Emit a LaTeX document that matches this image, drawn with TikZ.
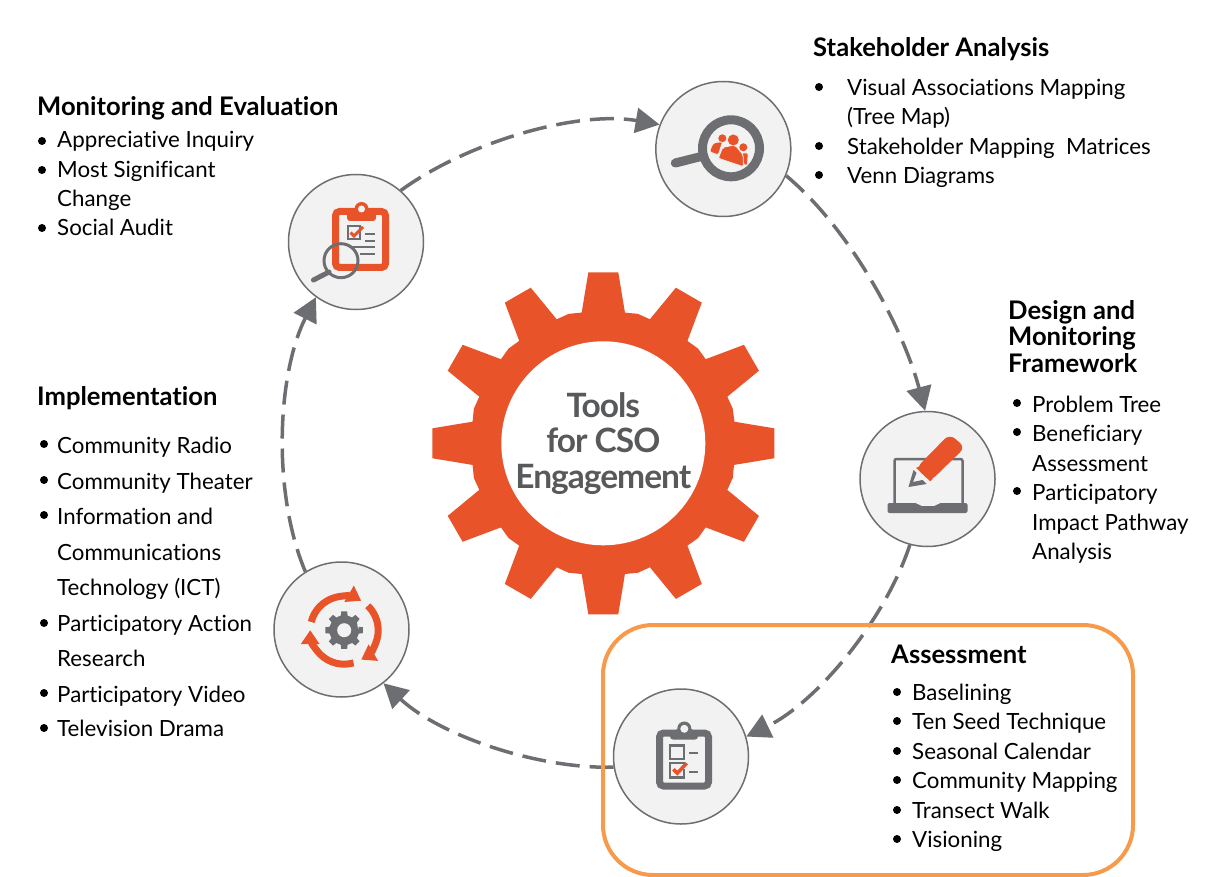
\documentclass[tikz,border=0pt]{standalone}
\usepackage{fontspec}
\setmainfont{Lato}[Ligatures=NoCommon]
\usepackage{xcolor}
\usetikzlibrary{
  arrows.meta,
  positioning
}
\definecolor{rust}{HTML}{E9532A}
\definecolor{slate}{HTML}{6D6E71}
\definecolor{pale}{HTML}{F2F2F2}
\definecolor{hubtext}{HTML}{58595B}
\definecolor{amber}{HTML}{F79A4B}

\begin{document}
\begin{tikzpicture}[
  x=1pt, y=-1pt,
  stage/.style={circle, draw=slate, line width=1.5pt, fill=pale, minimum size=135pt, inner sep=0pt},
  flow/.style={draw=slate, line width=3.5pt, dash pattern=on 24pt off 10pt, looseness=0.8, -{Triangle[length=24pt, width=25pt]}},
  head/.style={anchor=base west, font=\fontsize{25.6}{26.5}\selectfont\bfseries, align=left, inner sep=0pt},
  item/.style={anchor=base west, font=\fontsize{22.3}{28}\selectfont, inner sep=0pt},
  dot/.style={circle, fill=black, minimum size=8pt, inner sep=0pt},
  person/.style={fill=rust, draw=pale, line width=0.8pt, rounded corners=2pt},
]
\useasboundingbox (0,0) rectangle (1207,877);

% --- Central gear ---
\fill[rust, shift={(603.3,443.3)}] (0:134) \foreach \a in {0,30,...,330}{
  -- (\a-9.4:132.5) -- (\a-5:171.7) -- (\a+5:171.7) -- (\a+9.4:132.5) -- (\a+15:134)} -- cycle;
\node[circle, fill=white, minimum size=204pt, inner sep=0pt, text=hubtext, align=center,
  font=\fontsize{33.5}{35.5}\selectfont\bfseries\addfontfeature{LetterSpace=-3}] (hub) at (603.3,443.3) {Tools\\for CSO\\Engagement};

% --- Stages ---
\node[stage] (stake) at (723.3,149) {};
\node[stage] (design) at (927.5,479) {};
\node[stage] (assess) at (681,756.5) {};
\node[stage] (impl) at (341.5,629.5) {};
\node[stage] (mon) at (356,242) {};

% Connectors
\draw[flow] (mon.49.8) to[out=36, in=170.2] (stake.159);
\draw[flow] (stake.-23.6) to[out=-40, in=105] (design.92);
\draw[flow] (design.255.1) to[out=-108.2, in=25.9] (assess.17.5);
\draw[flow] (assess.189.5) to[out=-178.6, in=-42.9] (impl.-52.2);
\draw[flow] (impl.122.3) to[out=112.9, in=-116.8] (mon.-126);

% Highlight
\node[draw=amber, line width=4pt, rounded corners=50pt, minimum width=530pt, minimum height=250pt, inner sep=0pt] (focus) at (868,750) {};

% --- Stakeholder icon ---
\begin{scope}[shift={(stake)}]
  \draw[slate, line width=9pt] (7.7,-0.7) circle (28.5);
  \draw[slate, line width=9pt, line cap=round] (-23,7.7) -- (-48,14);
  \fill[rust] (-1,-10.7) circle (4) (20,-1.7) circle (4);
  \path[person] (-14,2.7) -- (-10,-6.3) -- (-0.7,-7.3) -- (-5,6) -- cycle;
  \path[person] (17.3,4.3) -- (25,3.7) -- (24,17) -- (20.7,16.3) -- cycle;
  \path[person] (-5,9.3) -- (-0.7,-1.7) -- (11.7,-4) -- (20,6) -- (20,17.7) -- cycle;
  \fill[rust] (10,-9) circle (5.5);
\end{scope}

% --- Laptop icon ---
\begin{scope}[shift={(design)}]
  \draw[slate, line width=2.5pt, rounded corners=2pt] (-33,25) -- (-33,-20) -- (35,-20) -- (35,25);
  \fill[slate, rounded corners=2pt] (-40,24) -- (-10,24) -- (-8,27) -- (9,27) -- (11,24) -- (40,24) -- (40,34) -- (-40,34) -- cycle;
  \fill[pale] (-17,-15) -- (8,-15) -- (8,10) -- (-17,10) -- cycle;
  \fill[rust, rounded corners=7pt] (-11.3,-11) -- (22,-45) -- (37.7,-31.7) -- (2.7,2.3) -- cycle;
  \fill[rust] (-11.3,-11) -- (5,-20) -- (5,0) -- (2.7,2.3) -- cycle;
  \fill[slate] (-19,8) -- (-14,-9) -- (-11,-6) -- (-14.5,3) -- (-5,1) -- (-1,5) -- cycle;
\end{scope}

% --- Assessment clipboard icon ---
\begin{scope}[shift={(assess)}]
  \draw[slate, line width=7pt, rounded corners=4pt] (-21.5,-23.5) rectangle (27.5,29.5);
  \fill[slate, rounded corners=3pt] (-11,-17) -- (-11,-25) -- (-3,-27) -- (3.3,-36) -- (10,-27) -- (17,-25) -- (17,-17) -- cycle;
  \fill[slate] (3.3,-28) circle (7);
  \fill[pale] (3.3,-27.7) circle (4);
  \draw[slate, line width=2.5pt] (-11,-11) rectangle (3,2.3);
  \draw[slate, line width=2.5pt] (-11,6.7) rectangle (3,21);
  \draw[slate, line width=2pt] (8,-3.3) -- (17,-3.3) (8,15) -- (17,15);
  \fill[pale] (-3,8) rectangle (7,12);
  \draw[rust, line width=3.5pt] (-7.7,12.7) -- (-3.7,16.7) -- (5.7,6.7);
\end{scope}

% --- Cycle icon ---
\begin{scope}[shift={(impl)}]
  \foreach \r in {0,120,240}{
    \draw[rust, line width=7pt, -{Triangle[length=14pt, width=18pt]}, rotate around={\r:(2.7,0.7)}]
      (2.7,0.7) ++(194:34) arc[start angle=194, end angle=300, radius=34];
  }
  \fill[slate, shift={(2.7,0.7)}] (0:14) \foreach \a in {0,45,...,315}{
    -- (\a-13:15) -- (\a-9:19) -- (\a+9:19) -- (\a+13:15)} -- cycle;
  \fill[pale] (2.7,0.7) circle (7);
\end{scope}

% --- Monitoring icon ---
\begin{scope}[shift={(mon)}]
  \draw[rust, line width=7pt, rounded corners=4pt] (-20.5,-30.5) rectangle (29.5,25.5);
  \fill[rust, rounded corners=3pt] (-9,-21) -- (-9,-30) -- (-2,-32) -- (5.5,-41) -- (13,-32) -- (20,-30) -- (20,-21) -- cycle;
  \fill[rust] (5.5,-33) circle (7);
  \fill[pale] (5.5,-33) circle (3.5);
  \draw[slate, line width=2pt] (-8.5,-15.5) rectangle (4,-2.5);
  \draw[rust, line width=3pt] (-5.5,-9.5) -- (-2,-6) -- (7,-15);
  \draw[slate, line width=2pt] (9,-8) -- (19,-8) (9,-1) -- (19,-1) (-7,5.5) -- (19,5.5) (4,12.5) -- (19,12.5);
  \draw[slate, line width=3pt] (-15,18.7) circle (17);
  \draw[slate, line width=5pt, line cap=round] (-27,30) -- (-42.5,38);
\end{scope}

% --- Monitoring and Evaluation ---
\node[head] (monh) at (37,116) {Monitoring and Evaluation};
\foreach \i/\y/\t in {1/148/Appreciative Inquiry, 2/178/Most Significant, 3/207/Change, 4/236/Social Audit}{
  \node[item] (mon\i) at (57,\y) {\t};
}
\foreach \i/\y in {1/141, 2/170, 3/228}{
  \node[dot] (mond\i) at (42,\y) {};
}

% --- Stakeholder Analysis ---
\node[head] (stakeh) at (813,57) {Stakeholder Analysis};
\foreach \i/\y/\t in {1/96/Visual Associations Mapping, 2/125/(Tree Map), 3/155/Stakeholder Mapping~ Matrices, 4/184/Venn Diagrams}{
  \node[item] (stake\i) at (847,\y) {\t};
}
\foreach \i/\y in {1/87, 2/146, 3/175}{
  \node[dot] (staked\i) at (819,\y) {};
}

% --- Design and Monitoring Framework ---
\node[head] (designh) at (1008,372) {Design and\\Monitoring\\Framework};
\foreach \i/\y/\t in {1/412/Problem Tree, 2/441/Beneficiary, 3/471/Assessment, 4/500/Participatory, 5/530/Impact Pathway, 6/559/Analysis}{
  \node[item] (design\i) at (1032,\y) {\t};
}
\foreach \i/\y in {1/403, 2/432, 3/491}{
  \node[dot] (designd\i) at (1017,\y) {};
}

% --- Assessment ---
\node[head] (assessh) at (891,663) {Assessment};
\foreach \i/\y/\t in {1/700/Baselining, 2/729/Ten Seed Technique, 3/759/Seasonal Calendar, 4/788/Community Mapping, 5/818/Transect Walk, 6/847/Visioning}{
  \node[item] (assess\i) at (912,\y) {\t};
  \node[dot] (assessd\i) at (897,\y-8) {};
}

% --- Implementation ---
\node[head] (implh) at (37,405) {Implementation};
\foreach \i/\y/\t in {1/453/Community Radio, 2/489/Community Theater, 3/524/Information and, 4/560/Communications, 5/595/Technology (ICT), 6/631/Participatory Action, 7/666/Research, 8/702/Participatory Video, 9/736/Television Drama}{
  \node[item] (impl\i) at (57,\y) {\t};
}
\foreach \i/\y in {1/444, 2/480, 3/515, 4/623, 5/693, 6/728}{
  \node[dot] (impld\i) at (44,\y) {};
}
\end{tikzpicture}
\end{document}
